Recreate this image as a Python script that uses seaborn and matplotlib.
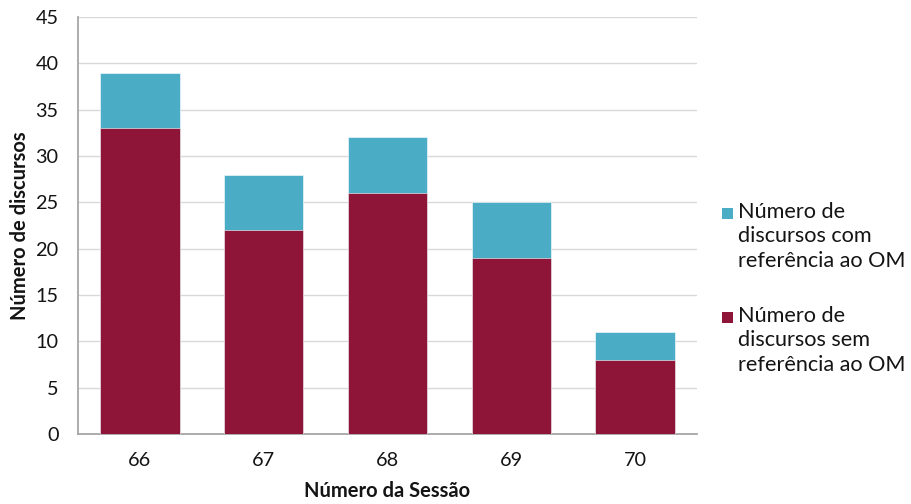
import matplotlib
matplotlib.use("Agg")
import matplotlib.pyplot as plt
import seaborn as sns
import pandas as pd
import numpy as np
from matplotlib.patches import Rectangle

sessoes = ["66", "67", "68", "69", "70"]
com_referencia = [6, 6, 6, 6, 3]
sem_referencia = [33, 22, 26, 19, 8]
legenda = ["Número de\ndiscursos com\nreferência ao OM",
           "Número de\ndiscursos sem\nreferência ao OM"]

teal = "#4BACC6"
maroon = "#8E1538"
text_color = "#141414"

sns.set_theme(style="white")
plt.rcParams["font.family"] = ["Lato", "DejaVu Sans"]

df = pd.DataFrame({
    "sessao": sessoes,
    "sem": sem_referencia,
    "total": np.array(sem_referencia) + np.array(com_referencia),
})

W, H = 912, 504
fig = plt.figure(figsize=(W / 100, H / 100), dpi=100)
ax = fig.add_axes([78 / W, 1 - 434 / H, 619 / W, 417 / H])

# stacked bars: full height in teal, lower part overdrawn in maroon
sns.barplot(data=df, x="sessao", y="total", color=teal, width=0.64,
            saturation=1, ax=ax, zorder=3, edgecolor="white", linewidth=0.4)
sns.barplot(data=df, x="sessao", y="sem", color=maroon, width=0.64,
            saturation=1, ax=ax, zorder=3, edgecolor="white", linewidth=0.4)

ax.set_ylim(0, 45)
ax.set_yticks(range(0, 46, 5))
ax.set_xlim(-0.5, 4.5)
ax.yaxis.grid(True, color="#D9D9D9", linewidth=1, zorder=0)
ax.set_axisbelow(True)
for side in ["top", "right"]:
    ax.spines[side].set_visible(False)
for side in ["left", "bottom"]:
    ax.spines[side].set_color("#A6A6A6")
    ax.spines[side].set_linewidth(1.3)
ax.tick_params(axis="both", length=0, labelsize=14.3, colors=text_color)
ax.tick_params(axis="x", pad=13)
ax.tick_params(axis="y", pad=14)

ax.set_xlabel("Número da Sessão", fontsize=14.5, fontweight="bold", color=text_color)
ax.set_ylabel("Número de discursos", fontsize=14.5, fontweight="bold", color=text_color)
ax.xaxis.set_label_coords(0.5, -0.112)
ax.yaxis.set_label_coords(-0.078, 0.5)

# legend: square swatch beside the first line of each label
for (color, label, y_sq, y_txt) in [(teal, legenda[0], 213.5, 202),
                                     (maroon, legenda[1], 317.5, 306)]:
    fig.patches.append(Rectangle((722 / W, 1 - (y_sq + 5.5) / H), 11 / W, 11 / H,
                                 transform=fig.transFigure, facecolor=color,
                                 edgecolor="none"))
    fig.text(738 / W, 1 - y_txt / H, label, ha="left", va="top", fontsize=15.6,
             linespacing=1.28, color=text_color)

fig.savefig("out.png", dpi=100)
